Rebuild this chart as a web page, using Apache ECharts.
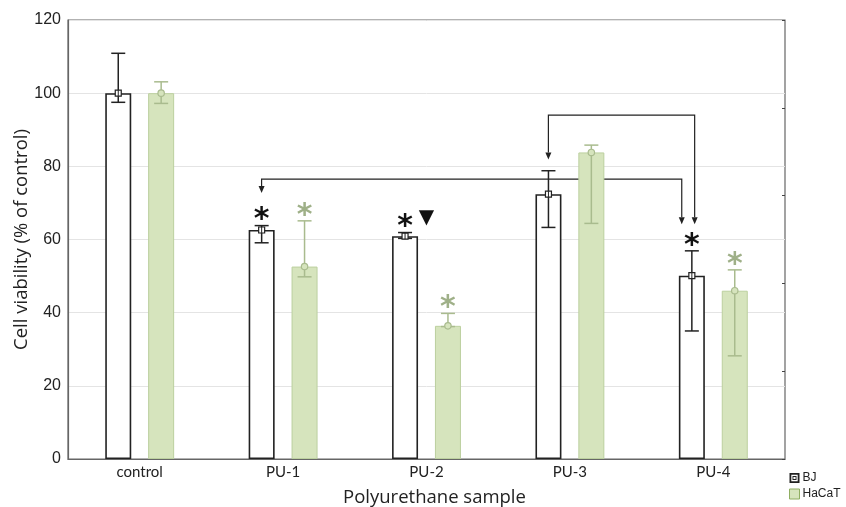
<!DOCTYPE html>
<html><head><meta charset="utf-8">
<script src="https://cdn.jsdelivr.net/npm/echarts@6/dist/echarts.min.js"></script>
<style>html,body{margin:0;padding:0;background:#fff}#c{width:846px;height:507px}</style>
</head><body><div id="c"></div>
<script>
var categories = ['control', 'PU-1', 'PU-2', 'PU-3', 'PU-4'];
var bjMean = [100, 62.6, 60.9, 72.4, 50.1];
var bjLow = [97.5, 59.1, 60.3, 63.3, 35.0];
var bjHigh = [110.9, 63.8, 61.9, 78.8, 56.9];
var hacatMean = [100, 52.6, 36.4, 83.8, 46.0];
var hacatLow = [97.2, 49.8, 36.2, 64.4, 28.2];
var hacatHigh = [103.1, 65.1, 39.8, 85.8, 51.7];
var bjSig = [false, true, true, false, true];
var hacatSig = [false, true, true, false, true];
var triangleMarks = [2];
var yTicks = [0, 20, 40, 60, 80, 100, 120];
// comparison brackets (annotation positions, data units)
var bracketFromX = [1.35, 3.35];
var bracketToX = [4.28, 4.37];
var bracketLevel = [76.5, 94.0];
var bracketFromTip = [72.7, 81.9];
var bracketToTip = [64.2, 64.2];

var BAR_W = 26, BAR_GAP = 0.65;
var OFFSET = BAR_W * (1 + BAR_GAP) / 2;
var GREEN_FILL = '#d6e4bd', GREEN_EDGE = '#bcd09f', GREEN_ERR = '#a9bb8e', GREEN_STAR = '#9fb088';

function errData(mean, lo, hi) {
  return categories.map(function (c, i) { return [i, lo[i], hi[i], mean[i]]; });
}
function errRender(sign, color, marker) {
  return function (params, api) {
    var i = api.value(0);
    var lo = api.coord([i, api.value(1)]);
    var hi = api.coord([i, api.value(2)]);
    var m = api.coord([i, api.value(3)]);
    var x = lo[0] + sign * OFFSET;
    var cw = 7;
    var st = { stroke: color, lineWidth: 1.5, fill: null };
    var children = [
      { type: 'line', shape: { x1: x, y1: lo[1], x2: x, y2: hi[1] }, style: st },
      { type: 'line', shape: { x1: x - cw, y1: lo[1], x2: x + cw, y2: lo[1] }, style: st },
      { type: 'line', shape: { x1: x - cw, y1: hi[1], x2: x + cw, y2: hi[1] }, style: st }
    ];
    if (marker === 'square') {
      children.push({ type: 'rect', shape: { x: x - 3, y: m[1] - 3, width: 6, height: 6 }, style: { stroke: color, lineWidth: 1.2, fill: '#fff' } });
      children.push({ type: 'line', shape: { x1: x, y1: m[1] - 3, x2: x, y2: m[1] + 3 }, style: { stroke: color, lineWidth: 1 } });
    } else {
      children.push({ type: 'circle', shape: { cx: x, cy: m[1], r: 3.2 }, style: { stroke: color, lineWidth: 1.2, fill: GREEN_FILL } });
    }
    return { type: 'group', children: children };
  };
}
function sigData(high, sig) {
  var out = [];
  sig.forEach(function (s, i) { if (s) out.push([i, high[i]]); });
  return out;
}
function sigRender(sign, color) {
  return function (params, api) {
    var p = api.coord([api.value(0), api.value(1)]);
    return { type: 'text', style: { text: '*', x: p[0] + sign * OFFSET, y: p[1] + 10, fill: color,
      font: 'bold 30px "DejaVu Sans"', textAlign: 'center', textVerticalAlign: 'bottom' } };
  };
}

var chart = echarts.init(document.getElementById('c'), null, { renderer: 'canvas' });
chart.setOption({
  animation: false,
  grid: { left: 68, right: 61, top: 20, bottom: 48, containLabel: false, outerBoundsMode: 'none',
    show: true, borderColor: '#666', borderWidth: 1.2, backgroundColor: 'transparent' },
  legend: {
    orient: 'vertical', left: 789, top: 472, itemWidth: 10, itemHeight: 10, itemGap: 4, padding: 0,
    textStyle: { fontFamily: 'Liberation Sans', fontSize: 12, color: '#222', padding: [0, 0, 0, -2] },
    data: [
      { name: 'BJ', icon: 'path://M0,0H10V10H0Z M1.8,1.8V8.2H8.2V1.8Z M3,3H7V7H3Z M3.9,3.9V6.1H6.1V3.9Z', itemStyle: { color: '#222', borderWidth: 0 } },
      { name: 'HaCaT', icon: 'rect', itemStyle: { color: GREEN_FILL, borderColor: '#8fae62', borderWidth: 1 } }
    ]
  },
  xAxis: [{
    type: 'category', data: categories, gridIndex: 0,
    axisLine: { lineStyle: { color: '#666', width: 1.2 } },
    axisTick: { inside: true, alignWithLabel: true, length: 3, lineStyle: { color: '#666' } },
    axisLabel: { fontFamily: 'Lato', fontSize: 15, color: '#222', margin: 6 },
    name: 'Polyurethane sample', nameLocation: 'middle', nameGap: 29,
    nameTextStyle: { fontFamily: 'Open Sans', fontSize: 18.5, color: '#222', padding: [0, 0, 0, 16] }
  }, {
    type: 'value', min: 0, max: 5, show: false, gridIndex: 0
  }],
  yAxis: [{
    type: 'value', min: 0, max: 120, interval: 20,
    axisLine: { show: true, lineStyle: { color: '#666', width: 1.2 } },
    axisTick: { show: false },
    splitLine: { lineStyle: { color: '#e4e4e4', width: 1 } },
    axisLabel: { fontFamily: 'Liberation Sans', fontSize: 16, color: '#222', margin: 7,
      formatter: function (v) { return yTicks.indexOf(v) >= 0 ? String(v) : ''; } },
    name: 'Cell viability (% of control)', nameLocation: 'middle', nameGap: 37, nameMoveOverlap: false,
    nameTextStyle: { fontFamily: 'Open Sans', fontSize: 18.5, color: '#222' }
  }, {
    type: 'value', min: 0, max: 5, interval: 1, position: 'right',
    axisLine: { show: false }, axisLabel: { show: false }, splitLine: { show: false },
    axisTick: { show: true, inside: true, length: 3, lineStyle: { color: '#444' } }
  }],
  series: [
    {
      name: 'brackets', type: 'custom', xAxisIndex: 1, yAxisIndex: 0, z: 1, silent: true,
      data: bracketFromX.map(function (x, i) { return [x, bracketToX[i], bracketLevel[i], bracketFromTip[i], bracketToTip[i]]; }),
      renderItem: function (params, api) {
        var a = api.coord([api.value(0), api.value(3)]);
        var b = api.coord([api.value(0), api.value(2)]);
        var c = api.coord([api.value(1), api.value(2)]);
        var d = api.coord([api.value(1), api.value(4)]);
        var st = { stroke: '#222', lineWidth: 1.2, fill: null };
        var ah = 7, aw = 3;
        return { type: 'group', children: [
          { type: 'polyline', shape: { points: [[a[0], a[1] - ah], b, c, [d[0], d[1] - ah]] }, style: st },
          { type: 'polygon', shape: { points: [[a[0] - aw, a[1] - ah], [a[0] + aw, a[1] - ah], a] }, style: { fill: '#222' } },
          { type: 'polygon', shape: { points: [[d[0] - aw, d[1] - ah], [d[0] + aw, d[1] - ah], d] }, style: { fill: '#222' } }
        ] };
      }
    },
    {
      name: 'BJ', type: 'bar', data: bjMean, barWidth: BAR_W, barGap: (BAR_GAP * 100) + '%', z: 2,
      itemStyle: { color: '#fff', borderColor: '#222', borderWidth: 1.6 }
    },
    {
      name: 'HaCaT', type: 'bar', data: hacatMean, barWidth: BAR_W, z: 2,
      itemStyle: { color: GREEN_FILL, borderColor: GREEN_EDGE, borderWidth: 1 }
    },
    {
      name: 'BJ err', type: 'custom', z: 3, silent: true, data: errData(bjMean, bjLow, bjHigh),
      renderItem: errRender(-1, '#222', 'square')
    },
    {
      name: 'HaCaT err', type: 'custom', z: 3, silent: true, data: errData(hacatMean, hacatLow, hacatHigh),
      renderItem: errRender(1, GREEN_ERR, 'circle')
    },
    {
      name: 'BJ sig', type: 'custom', z: 4, silent: true, data: sigData(bjHigh, bjSig),
      renderItem: sigRender(-1, '#111')
    },
    {
      name: 'HaCaT sig', type: 'custom', z: 4, silent: true, data: sigData(hacatHigh, hacatSig),
      renderItem: sigRender(1, GREEN_STAR)
    },
    {
      name: 'tri', type: 'custom', z: 4, silent: true,
      data: triangleMarks.map(function (i) { return [i, bjHigh[i]]; }),
      renderItem: function (params, api) {
        var p = api.coord([api.value(0), api.value(1)]);
        return { type: 'text', style: { text: '▼', x: p[0], y: p[1] - 5, fill: '#111',
          font: '20px "DejaVu Sans"', textAlign: 'center', textVerticalAlign: 'bottom' } };
      }
    }
  ]
});
</script>
</body></html>
